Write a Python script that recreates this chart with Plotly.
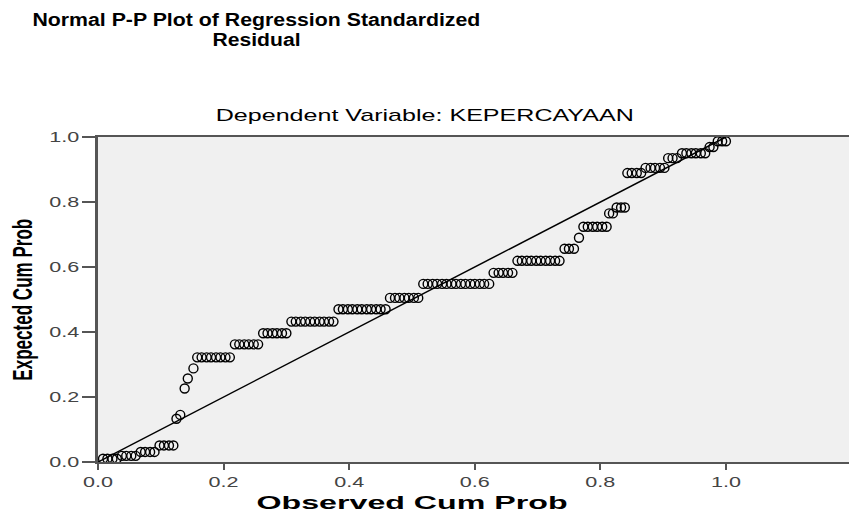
import json
import plotly.graph_objects as go

# Observed cumulative probability (x) and expected cumulative probability (y)
observed = [
    0.008, 0.015, 0.023, 0.030,
    0.038, 0.045, 0.053, 0.060,
    0.068, 0.075, 0.083, 0.090,
    0.098, 0.105, 0.113, 0.120,
    0.125, 0.131, 0.138, 0.143, 0.152,
    0.158, 0.165, 0.173, 0.180, 0.188, 0.195, 0.203, 0.210,
    0.218, 0.225, 0.233, 0.240, 0.248, 0.255,
    0.263, 0.270, 0.278, 0.285, 0.293, 0.300,
    0.308, 0.315, 0.323, 0.330, 0.338, 0.345, 0.353, 0.360, 0.368, 0.375,
    0.383, 0.390, 0.398, 0.405, 0.413, 0.420, 0.428, 0.435, 0.443, 0.450, 0.458,
    0.465, 0.473, 0.480, 0.488, 0.495, 0.503, 0.510,
    0.518, 0.525, 0.533, 0.540, 0.548, 0.555, 0.563, 0.570, 0.578, 0.585,
    0.593, 0.600, 0.608, 0.615, 0.623,
    0.630, 0.638, 0.645, 0.653, 0.660,
    0.668, 0.675, 0.683, 0.690, 0.698, 0.705, 0.713, 0.720, 0.728, 0.735,
    0.743, 0.750, 0.758,
    0.766,
    0.773, 0.780, 0.788, 0.795, 0.803, 0.810,
    0.814, 0.820,
    0.826, 0.833, 0.839,
    0.843, 0.850, 0.858, 0.865,
    0.872, 0.880, 0.887, 0.895, 0.902,
    0.908, 0.915, 0.922,
    0.930, 0.937, 0.945, 0.952, 0.960, 0.967,
    0.974, 0.980,
    0.987, 0.994, 1.000,
]
expected = [
    0.010, 0.010, 0.010, 0.010,
    0.019, 0.019, 0.019, 0.019,
    0.031, 0.031, 0.031, 0.031,
    0.051, 0.051, 0.051, 0.051,
    0.133, 0.145, 0.226, 0.257, 0.288,
    0.322, 0.322, 0.322, 0.322, 0.322, 0.322, 0.322, 0.322,
    0.362, 0.362, 0.362, 0.362, 0.362, 0.362,
    0.396, 0.396, 0.396, 0.396, 0.396, 0.396,
    0.432, 0.432, 0.432, 0.432, 0.432, 0.432, 0.432, 0.432, 0.432, 0.432,
    0.470, 0.470, 0.470, 0.470, 0.470, 0.470, 0.470, 0.470, 0.470, 0.470, 0.470,
    0.505, 0.505, 0.505, 0.505, 0.505, 0.505, 0.505,
    0.548, 0.548, 0.548, 0.548, 0.548, 0.548, 0.548, 0.548, 0.548, 0.548,
    0.548, 0.548, 0.548, 0.548, 0.548,
    0.582, 0.582, 0.582, 0.582, 0.582,
    0.619, 0.619, 0.619, 0.619, 0.619, 0.619, 0.619, 0.619, 0.619, 0.619,
    0.656, 0.656, 0.656,
    0.690,
    0.724, 0.724, 0.724, 0.724, 0.724, 0.724,
    0.765, 0.765,
    0.783, 0.783, 0.783,
    0.889, 0.889, 0.889, 0.889,
    0.905, 0.905, 0.905, 0.905, 0.905,
    0.935, 0.935, 0.935,
    0.950, 0.950, 0.950, 0.950, 0.950, 0.950,
    0.969, 0.969,
    0.987, 0.987, 0.987,
]
line_x = [0.0, 1.0]
line_y = [0.0, 1.0]
tick_vals = [0.0, 0.2, 0.4, 0.6, 0.8, 1.0]
tick_text = ["0.0", "0.2", "0.4", "0.6", "0.8", "1.0"]

TITLE_1 = "Normal P-P Plot of Regression Standardized"
TITLE_2 = "Residual"
SUBTITLE = "Dependent Variable: KEPERCAYAAN"
X_TITLE = "Observed Cum Prob"
Y_TITLE = "Expected Cum Prob"

W, H = 849, 511
L, R, T, B = 98, 0, 137, 49
pw, ph = W - L - R, H - T - B


def px_x(x):
    return (x - L) / pw


def px_y(y):
    return (H - B - y) / ph


fig = go.Figure()
fig.add_trace(go.Scatter(
    x=line_x, y=line_y, mode="lines",
    line=dict(color="black", width=1.5),
    hoverinfo="skip", showlegend=False,
))
fig.add_trace(go.Scatter(
    x=observed, y=expected, mode="markers",
    marker=dict(symbol="circle-open", size=9, color="black", line=dict(width=1.4)),
    cliponaxis=False, showlegend=False,
))

font_main = "Liberation Sans, Arial, sans-serif"


def ann(text, x, y, size, weight="normal", angle=0, family=font_main):
    return dict(text=text, xref="paper", yref="paper", x=px_x(x), y=px_y(y),
                xanchor="center", yanchor="middle", showarrow=False, textangle=angle,
                font=dict(size=size, color="black", family=family, weight=weight))


fig.update_layout(
    width=W, height=H,
    margin=dict(l=L, r=R, t=T, b=B),
    paper_bgcolor="white",
    plot_bgcolor="#f0f0f0",
    font=dict(family=font_main, color="#333"),
    xaxis=dict(
        range=[0, 1.196], showgrid=False, zeroline=False,
        showline=True, linecolor="#555", linewidth=2, mirror=True,
        ticks="outside", ticklen=6, tickwidth=2, tickcolor="#555",
        tickvals=tick_vals, ticktext=tick_text,
        tickfont=dict(size=14, color="#444"),
    ),
    yaxis=dict(
        range=[0, 1.0], showgrid=False, zeroline=False,
        showline=True, linecolor="#555", linewidth=3,
        ticks="outside", ticklen=13, tickwidth=1.5, tickcolor="#555",
        tickvals=tick_vals, ticktext=tick_text,
        tickfont=dict(size=14, color="#444"),
    ),
    annotations=[
        ann(TITLE_1, 256, 20, 18, "bold"),
        ann(TITLE_2, 256, 40, 18, "bold"),
        ann(SUBTITLE, 424, 115, 17),
        ann(X_TITLE, 412, 503, 18, "bold"),
        ann(Y_TITLE, 23, 300, 27, "bold", angle=-90),
    ],
)

# stretched text widths as they appear in the reference (pixels)
widths = {TITLE_1: 448, TITLE_2: 88, SUBTITLE: 418, X_TITLE: 311, Y_TITLE: 162}

post = """
document.body.style.margin = '0';
var widths = %s;
document.querySelectorAll('text.annotation-text').forEach(function (t) {
  var w = widths[t.textContent];
  if (w) { t.setAttribute('textLength', w); t.setAttribute('lengthAdjust', 'spacingAndGlyphs'); }
});
document.querySelectorAll('.xtick text, .ytick text').forEach(function (t) {
  t.setAttribute('textLength', 30); t.setAttribute('lengthAdjust', 'spacingAndGlyphs');
});
""" % json.dumps(widths)

fig.write_html("out.html", post_script=post,
               config={"displayModeBar": False, "staticPlot": True})
